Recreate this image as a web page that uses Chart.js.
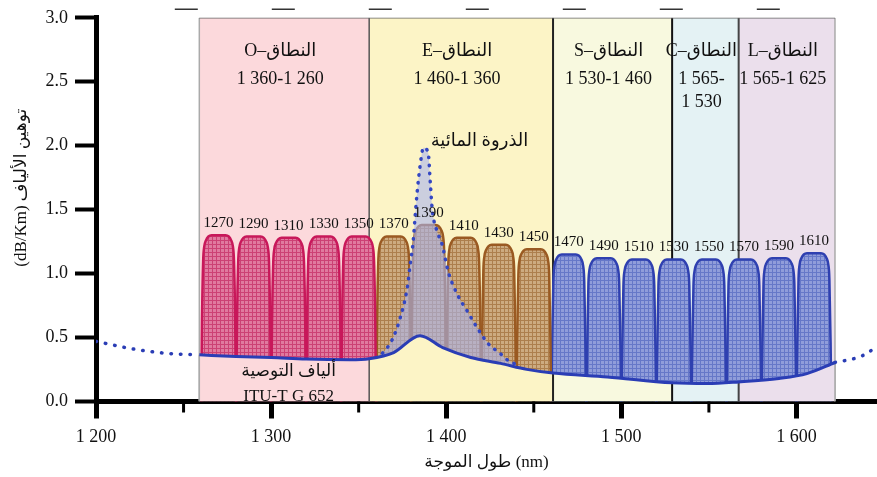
<!DOCTYPE html>
<html><head><meta charset="utf-8">
<script src="https://cdn.jsdelivr.net/npm/chart.js@4.4.0/dist/chart.umd.min.js"></script>
<style>html,body{margin:0;padding:0;background:#fff}#wrap{width:877px;height:477px}</style>
</head><body><div id="wrap"><canvas id="c" width="877" height="477"></canvas></div>
<script>
// ---------- data ----------
const bandNames   = ['O–النطاق','E–النطاق','S–النطاق','C–النطاق','L–النطاق'];
const bandRanges  = [['1 360-1 260'],['1 460-1 360'],['1 530-1 460'],['1 565-','1 530'],['1 565-1 625']];
const bandEdges   = [1259, 1356, 1461, 1529, 1567, 1622];

const channelNm   = [1270,1290,1310,1330,1350,1370,1390,1410,1430,1450,1470,1490,1510,1530,1550,1570,1590,1610];
const channelPeak = [1.30,1.29,1.28,1.29,1.29,1.29,1.38,1.28,1.225,1.19,1.15,1.12,1.11,1.11,1.11,1.11,1.12,1.16];

const fiberNm     = [1259,1280,1300,1320,1345,1356,1370,1385,1398,1414,1431,1446,1461,1492,1529,1549,1567,1590,1606,1622];
const fiberLoss   = [0.365,0.352,0.344,0.332,0.327,0.335,0.383,0.514,0.421,0.344,0.298,0.251,0.222,0.192,0.146,0.140,0.153,0.180,0.218,0.305];

const dotLeftNm   = [1200,1221,1240,1259];
const dotLeftLoss = [0.47,0.411,0.377,0.365];
const dotRightNm  = [1622,1628,1635,1641,1646];
const dotRightLoss= [0.305,0.321,0.344,0.383,0.437];

const peakNm   = [1360,1365,1369.7,1373.7,1377.7,1379.4,1381.1,1382.3,1383.4,1385.1,1387,1389.7,1390.9,1392,1394.9,1397.7,1401.1,1406.3,1412,1417.7,1424,1430.9,1435.4,1440];
const peakLoss = [0.34,0.398,0.499,0.653,0.885,1.071,1.249,1.458,1.636,1.845,1.984,1.945,1.713,1.504,1.326,1.226,1.017,0.839,0.707,0.576,0.452,0.375,0.32,0.29];

const dashNm    = [1245, 1591];
const dashLevel = [3.066, 3.066];

const xMajorTicks = [1200,1300,1400,1500,1600];
const xTickLabels = ['1 200','1 300','1 400','1 500','1 600'];
const xMinorTicks = [1250,1350,1450,1550];
const yTickLabels = ['0.0','0.5','1.0','1.5','2.0','2.5','3.0'];

const waterPeakLabel = 'الذروة المائية';
const fiberLabel = ['ألياف التوصية','ITU-T G 652'];
const xTitle = 'طول الموجة (nm)';
const yTitle = '(dB/Km) توهين الألياف';

// ---------- styles ----------
const SERIF = "'Liberation Serif','DejaVu Serif','DejaVu Sans',serif";
const bandFill  = ['#fcd9dc','#fcf4c6','#f8f9df','#e4f2f4','#ebdfec'];
const edgeColor = ['#aaaaaa','#555555','#222222','#111111','#444444','#aaaaaa'];
const edgeWidth = [1.5,1.5,2,2,2,1.5];
// passband outline template: [offset from centre (nm), drop below peak] (null = down to axis)
const HUMP = [[-9.9,null],[-9.5,0.7],[-8.8,0.2],[-8.2,0.09],[-7.2,0.04],[-5.8,0.01],[-4,0],
              [4,0],[5.8,0.01],[7.2,0.04],[8.2,0.09],[8.8,0.2],[9.5,0.7],[9.9,null]];

const ctx = document.getElementById('c').getContext('2d');
function pat(bg, fg){
  const c = document.createElement('canvas'); c.width = c.height = 4;
  const g = c.getContext('2d');
  g.fillStyle = bg; g.fillRect(0,0,4,4);
  g.fillStyle = fg; g.fillRect(0,0,4,1); g.fillRect(0,0,1,4);
  return ctx.createPattern(c,'repeat');
}
const humpFill = [pat('#e07a9f','#cc4174'), pat('#cdab80','#ad7f4d'), pat('#909dda','#6678c8')];
const humpLine = ['#c8185a','#9a5a22','#2f40b0'];
const groupOf = c => c < bandEdges[1] ? 0 : (c < bandEdges[2] ? 1 : 2);

const pts = (xs, ys) => xs.map((x,i)=>({x, y: ys[i]}));
const ds = [];
bandNames.forEach((n,i)=> ds.push({data:[{x:bandEdges[i],y:3},{x:bandEdges[i+1],y:3}], fill:'origin',
  backgroundColor:bandFill[i], borderWidth:0, pointRadius:0, order:100}));
ds.push({data:[{x:bandEdges[0],y:3},{x:bandEdges[5],y:3}], borderColor:'#666', borderWidth:1.5, pointRadius:0, fill:false, order:95});
bandEdges.forEach((b,i)=> ds.push({data:[{x:b,y:0},{x:b,y:3}], borderColor:edgeColor[i], borderWidth:edgeWidth[i], pointRadius:0, fill:false, order:95}));
channelNm.forEach((c,i)=>{
  const g = groupOf(c);
  ds.push({data: HUMP.map(([dx,drop])=>({x:c+dx, y: drop===null ? 0 : channelPeak[i]-drop})),
    fill:'origin', backgroundColor:humpFill[g], borderColor:humpLine[g], borderWidth:2.5,
    cubicInterpolationMode:'monotone', pointRadius:0, order:80});
});
ds.push({data:pts(peakNm,peakLoss), fill:'origin', backgroundColor:'rgba(170,180,238,0.6)',
  borderColor:'#3447c2', borderWidth:3.5, borderDash:[0.5,7.5], borderCapStyle:'round',
  cubicInterpolationMode:'monotone', pointRadius:0, order:70});
bandNames.forEach((n,i)=>{
  const p = pts(fiberNm,fiberLoss).filter(q=>q.x>=bandEdges[i] && q.x<=bandEdges[i+1]);
  ds.push({data:p, fill:'origin', backgroundColor:bandFill[i], borderWidth:0, pointRadius:0,
    cubicInterpolationMode:'monotone', order:60});
});
bandEdges.forEach((b,i)=>{
  const k = fiberNm.indexOf(b);
  ds.push({data:[{x:b,y:0},{x:b,y:fiberLoss[k]}], borderColor:edgeColor[i], borderWidth:edgeWidth[i], pointRadius:0, fill:false, order:55});
});
ds.push({data:pts(fiberNm,fiberLoss), borderColor:'#2a3db5', borderWidth:3, fill:false, pointRadius:0, cubicInterpolationMode:'monotone', order:40});
ds.push({data:pts(dotLeftNm,dotLeftLoss), borderColor:'#2a3db5', borderWidth:3.5, borderDash:[0.5,9], borderCapStyle:'round', fill:false, pointRadius:0, cubicInterpolationMode:'monotone', order:40});
ds.push({data:pts(dotRightNm,dotRightLoss), borderColor:'#2a3db5', borderWidth:3.5, borderDash:[0.5,9], borderCapStyle:'round', fill:false, pointRadius:0, cubicInterpolationMode:'monotone', order:40});
ds.push({data:pts(dashNm,dashLevel), borderColor:'#333', borderWidth:1.5, borderDash:[23,74], fill:false, pointRadius:0, clip:false, order:30});

const textPlugin = {
  id:'texts',
  afterDraw(chart){
    const c = chart.ctx, xs = chart.scales.x, ys = chart.scales.y, a = chart.chartArea;
    c.save();
    c.fillStyle = '#111';
    c.textAlign = 'center'; c.textBaseline = 'middle';
    c.strokeStyle = '#000'; c.lineWidth = 3;
    xMinorTicks.forEach(v=>{ const px = xs.getPixelForValue(v); c.beginPath(); c.moveTo(px,a.bottom); c.lineTo(px,a.bottom+11); c.stroke(); });
    c.font = '18px ' + SERIF;
    bandNames.forEach((n,i)=>{
      const cx = (xs.getPixelForValue(bandEdges[i]) + xs.getPixelForValue(bandEdges[i+1]))/2 - 4;
      c.fillText(n, cx, a.top + 33);
      bandRanges[i].forEach((t,j)=> c.fillText(t, cx, a.top + 61 + j*23));
    });
    c.font = '15px ' + SERIF;
    channelNm.forEach((ch,i)=> c.fillText(String(ch), xs.getPixelForValue(ch), ys.getPixelForValue(channelPeak[i]) - 12));
    c.font = '18px ' + SERIF;
    c.fillText(waterPeakLabel, xs.getPixelForValue(1419), a.top + 123);
    c.font = '17px ' + SERIF;
    c.fillText(fiberLabel[0], xs.getPixelForValue(1310), a.top + 354);
    c.fillText(fiberLabel[1], xs.getPixelForValue(1310), a.top + 379);
    c.fillText(xTitle, (a.left + a.right)/2, a.bottom + 61);
    c.translate(22, a.top + 170); c.rotate(-Math.PI/2);
    c.fillText(yTitle, 0, 0);
    c.restore();
  }
};

new Chart(ctx, {
  type:'line',
  data:{ datasets: ds },
  plugins:[textPlugin],
  options:{
    responsive:false, animation:false, devicePixelRatio:1, events:[],
    layout:{ padding:{ top:13.5, right:0, left:0, bottom:0 } },
    plugins:{ legend:{display:false}, tooltip:{enabled:false} },
    scales:{
      x:{ type:'linear', min:1200, max:1646, z:1,
        afterBuildTicks: s => { s.ticks = xMajorTicks.map(v=>({value:v})); },
        afterFit: s => { s.height = 75.5; },
        border:{ color:'#000', width:5 },
        grid:{ drawOnChartArea:false, drawTicks:true, tickLength:17, tickWidth:5, tickColor:'#000' },
        ticks:{ color:'#111', padding:8, font:{family:SERIF, size:18}, maxRotation:0, autoSkip:false,
          callback:(v,i)=> xTickLabels[i] }
      },
      y:{ type:'linear', min:0, max:3, z:1,
        afterBuildTicks: s => { s.ticks = yTickLabels.map(t=>({value:parseFloat(t)})); },
        afterFit: s => { s.width = 96; },
        border:{ color:'#000', width:5 },
        grid:{ drawOnChartArea:false, drawTicks:true, tickLength:21, tickWidth:4, tickColor:'#000' },
        ticks:{ color:'#111', padding:7, font:{family:SERIF, size:18}, autoSkip:false,
          callback:(v,i)=> yTickLabels[i] }
      }
    }
  }
});
</script>
</body></html>
